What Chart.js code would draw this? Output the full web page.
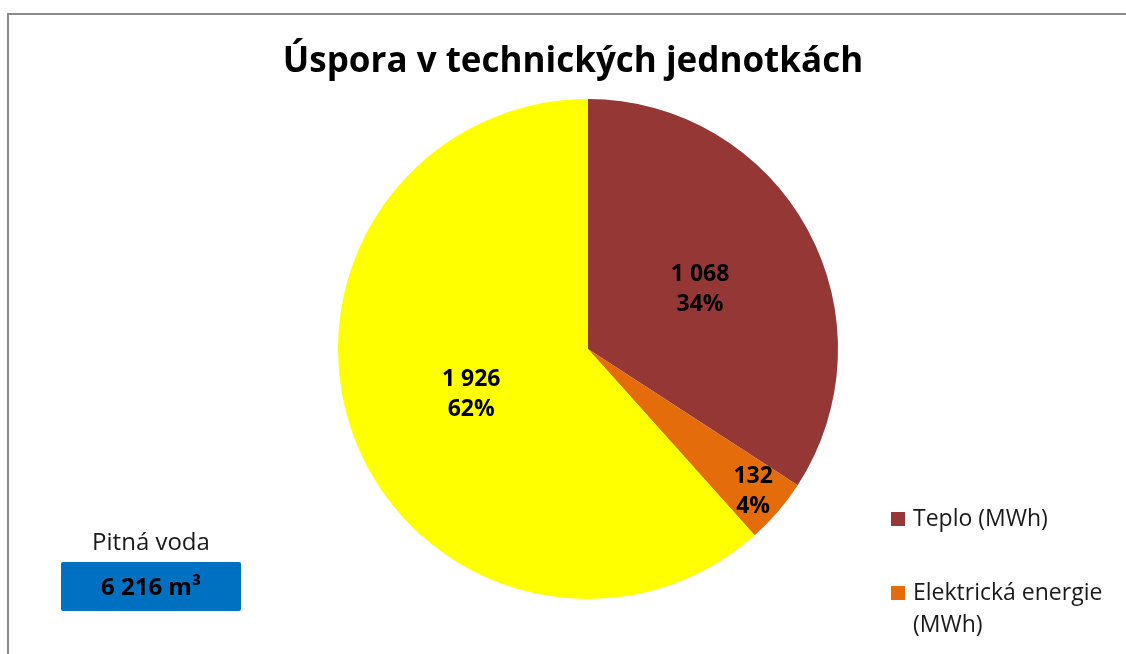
<!DOCTYPE html>
<html>
<head>
<meta charset="utf-8">
<script src="https://cdn.jsdelivr.net/npm/chart.js@4.4.1/dist/chart.umd.min.js"></script>
<style>
  html, body { margin: 0; padding: 0; background: #ffffff; overflow: hidden; }
  canvas { display: block; }
</style>
</head>
<body>
<canvas id="c" width="1126" height="654"></canvas>
<script>
// ---- data ----
const chartTitle = 'Úspora v technických jednotkách';
const categories = ['Teplo (MWh)', 'Elektrická energie (MWh)', 'Zemní plyn (MWh)'];
const values = [1068, 132, 1926];
const colors = ['#953735', '#E46C0A', '#FFFF00'];
const waterLabel = 'Pitná voda';
const waterValue = 6216;
const waterUnit = 'm³';

function fmt(v) {
  return String(v).replace(/\B(?=(\d{3})+(?!\d))/g, ' ');
}

const FONT = '"Open Sans", "DejaVu Sans", sans-serif';

const extras = {
  id: 'extras',
  afterDraw(chart) {
    const ctx = chart.ctx;
    ctx.save();

    // outer frame (top and left edges visible)
    ctx.strokeStyle = '#898989';
    ctx.lineWidth = 2;
    ctx.beginPath();
    ctx.moveTo(8, 660);
    ctx.lineTo(8, 14);
    ctx.lineTo(1130, 14);
    ctx.stroke();

    // title
    ctx.fillStyle = '#000000';
    ctx.font = 'bold 35px ' + FONT;
    ctx.textAlign = 'center';
    ctx.textBaseline = 'middle';
    ctx.fillText(chartTitle, 573, 62);

    // data labels
    const meta = chart.getDatasetMeta(0);
    const total = values.reduce((a, b) => a + b, 0);
    const radFrac = [0.51, 0.87, 0.5];
    ctx.font = 'bold 23px ' + FONT;
    meta.data.forEach((arc, i) => {
      const p = arc.getProps(['x', 'y', 'startAngle', 'endAngle', 'outerRadius'], true);
      const mid = (p.startAngle + p.endAngle) / 2;
      const r = p.outerRadius * radFrac[i];
      const x = p.x + Math.cos(mid) * r;
      const y = p.y + Math.sin(mid) * r;
      const pct = Math.round(values[i] / total * 100) + '%';
      ctx.fillText(fmt(values[i]), x, y - 14);
      ctx.fillText(pct, x, y + 16);
    });

    // legend
    ctx.font = '23px ' + FONT;
    ctx.textAlign = 'left';
    const lx = 891, tx = 913, maxW = 205, lineH = 32;
    let y = 519;
    categories.forEach((c, i) => {
      const words = c.split(' ');
      const lines = [];
      let cur = '';
      words.forEach(w => {
        const t = cur ? cur + ' ' + w : w;
        if (ctx.measureText(t).width > maxW && cur) { lines.push(cur); cur = w; }
        else cur = t;
      });
      if (cur) lines.push(cur);
      ctx.fillStyle = colors[i];
      ctx.fillRect(lx, y - 7, 14, 14);
      ctx.fillStyle = '#1a1a1a';
      lines.forEach((ln, k) => ctx.fillText(ln, tx, y + k * lineH));
      y += lines.length * lineH + 42;
    });

    // water box
    ctx.textAlign = 'center';
    ctx.fillStyle = '#1a1a1a';
    ctx.font = '24px ' + FONT;
    ctx.fillText(waterLabel, 151, 543);
    ctx.fillStyle = '#0070C0';
    ctx.beginPath();
    if (ctx.roundRect) ctx.roundRect(61, 562, 180, 49, 2); else ctx.rect(61, 562, 180, 49);
    ctx.fill();
    ctx.fillStyle = '#000000';
    ctx.font = 'bold 24px ' + FONT;
    ctx.fillText(fmt(waterValue) + ' ' + waterUnit, 151, 588);

    ctx.restore();
  }
};

new Chart(document.getElementById('c'), {
  type: 'pie',
  data: {
    labels: categories,
    datasets: [{
      data: values,
      backgroundColor: colors,
      borderWidth: 0
    }]
  },
  options: {
    responsive: false,
    animation: false,
    layout: { padding: { left: 338, right: 288, top: 99, bottom: 55 } },
    plugins: {
      legend: { display: false },
      title: { display: false },
      tooltip: { enabled: false }
    }
  },
  plugins: [extras]
});
</script>
</body>
</html>
